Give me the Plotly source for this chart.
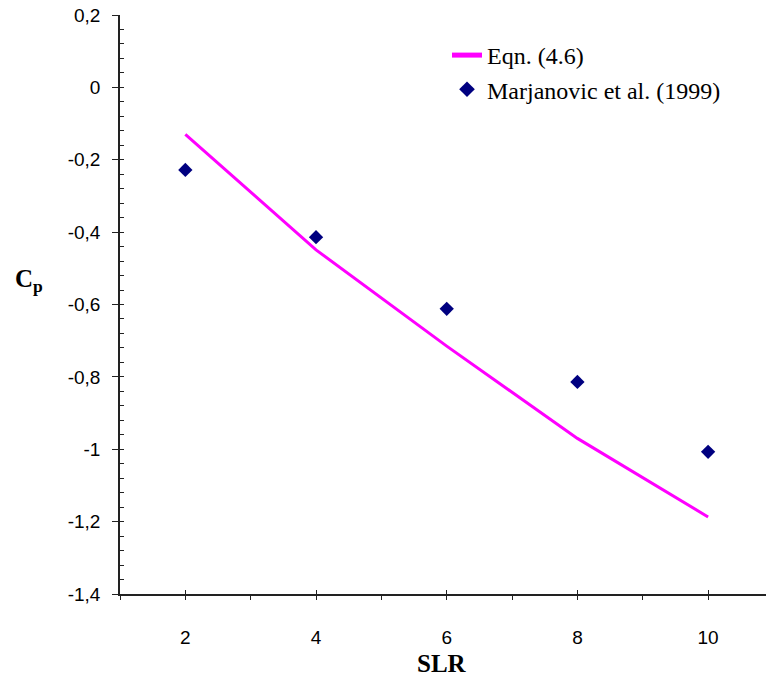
import plotly.graph_objects as go

slr = [2, 4, 6, 8, 10]
eqn_cp = [-0.130, -0.449, -0.715, -0.970, -1.187]
marj_cp = [-0.228, -0.414, -0.612, -0.814, -1.007]

x_label_ticks = [2, 4, 6, 8, 10]
x_ticktext = ["2", "4", "6", "8", "10"]
x_all_ticks = [1, 2, 3, 4, 5, 6, 7, 8, 9, 10, 11]
y_ticks = [0.2, 0, -0.2, -0.4, -0.6, -0.8, -1, -1.2, -1.4]
y_ticktext = ["0,2", "0", "-0,2", "-0,4", "-0,6", "-0,8", "-1", "-1,2", "-1,4"]

X_RANGE = [1, 10.886]
Y_RANGE = [-1.4, 0.2]

fig = go.Figure()
fig.add_trace(go.Scatter(x=slr, y=eqn_cp, mode="lines", name="Eqn. (4.6)",
                         line=dict(color="#FF00FF", width=3)))
fig.add_trace(go.Scatter(x=slr, y=marj_cp, mode="markers", name="Marjanovic et al. (1999)",
                         marker=dict(symbol="diamond", color="#000080", size=11)))

axis_font = dict(family="Liberation Sans, Arial", size=19, color="black")
serif = "Liberation Serif"
fig.update_layout(
    width=766, height=676,
    margin=dict(l=120, r=0, t=15, b=82),
    paper_bgcolor="white", plot_bgcolor="white",
    showlegend=True,
    legend=dict(x=(447 - 120) / 646, y=1 - (33 - 15) / 579, xanchor="left", yanchor="top",
                font=dict(family=serif, size=24, color="black"),
                bgcolor="rgba(0,0,0,0)", tracegroupgap=0, itemsizing="constant"),
    xaxis=dict(range=X_RANGE, tickmode="array", tickvals=x_label_ticks, ticktext=x_ticktext,
               ticks="inside", ticklen=4, tickwidth=1.2, tickcolor="#222",
               showline=True, linecolor="#222", linewidth=1.5, showgrid=False, zeroline=False,
               tickfont=axis_font, ticklabelstandoff=25),
    yaxis=dict(range=Y_RANGE, tickmode="array", tickvals=y_ticks, ticktext=y_ticktext,
               ticks="outside", ticklen=6, tickwidth=1.2, tickcolor="#222",
               showline=True, linecolor="#222", linewidth=1.5, showgrid=False, zeroline=False,
               tickfont=axis_font, ticklabelstandoff=8),
    xaxis2=dict(range=X_RANGE, overlaying="x", side="bottom", anchor="y", tickmode="array",
                tickvals=x_all_ticks, ticks="outside", ticklen=5, tickwidth=1.2, tickcolor="#222",
                showticklabels=False, showgrid=False, zeroline=False, showline=False),
    yaxis2=dict(range=Y_RANGE, overlaying="y", tickmode="linear", tick0=-1.4, dtick=0.04,
                ticks="inside", ticklen=4, tickwidth=1.2, tickcolor="#222",
                showticklabels=False, showgrid=False, zeroline=False, showline=False),
)
# invisible helper trace to activate the overlay axes
fig.add_trace(go.Scatter(x=[None], y=[None], xaxis="x2", yaxis="y2", showlegend=False, hoverinfo="skip"))

fig.add_annotation(text="<b>SLR</b>", xref="paper", yref="paper",
                   x=(442 - 120) / 646, y=-(663 - 594) / 579, xanchor="center", yanchor="middle",
                   showarrow=False, font=dict(family=serif, size=25, color="black"))
fig.add_annotation(text="<b>C<sub>p</sub></b>", xref="paper", yref="paper",
                   x=-(120 - 29) / 646, y=(594 - 280) / 579, xanchor="center", yanchor="middle",
                   showarrow=False, font=dict(family=serif, size=25, color="black"))

fig.write_html("out.html")
